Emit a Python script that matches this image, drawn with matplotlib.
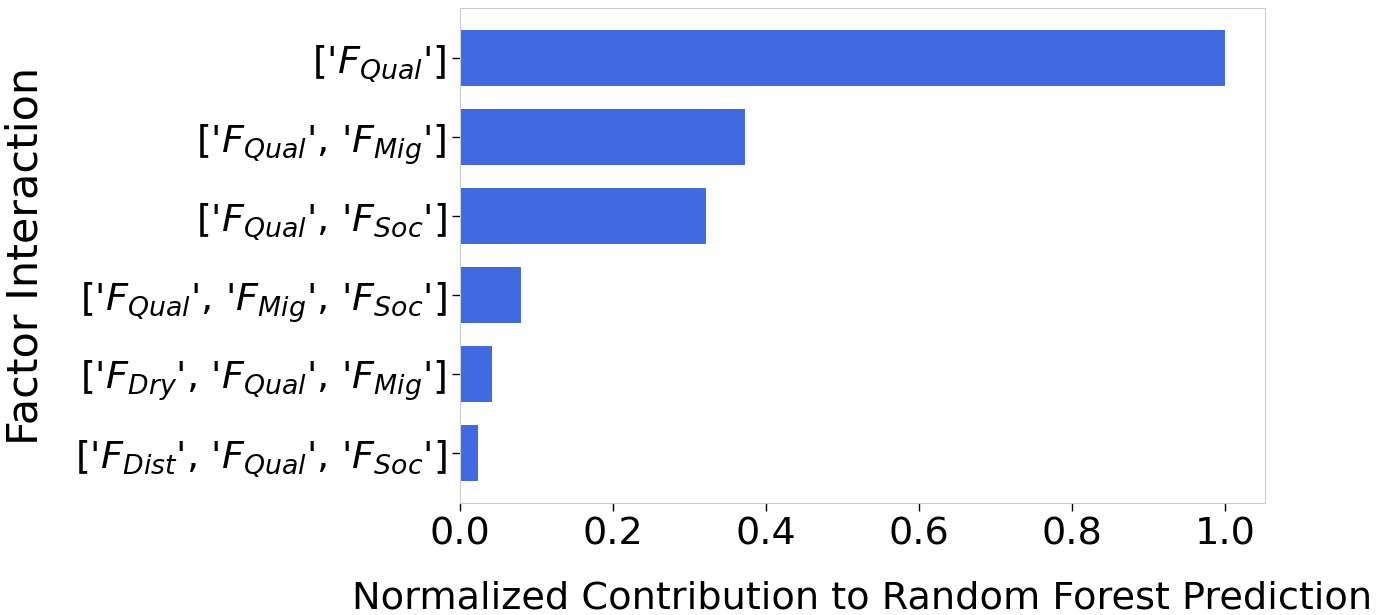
import matplotlib.pyplot as plt

labels = ["['$F_{Qual}$']",
          "['$F_{Qual}$', '$F_{Mig}$']",
          "['$F_{Qual}$', '$F_{Soc}$']",
          "['$F_{Qual}$', '$F_{Mig}$', '$F_{Soc}$']",
          "['$F_{Dry}$', '$F_{Qual}$', '$F_{Mig}$']",
          "['$F_{Dist}$', '$F_{Qual}$', '$F_{Soc}$']"]
values = [1.0, 0.372, 0.322, 0.080, 0.042, 0.024]
xticks = [0.0, 0.2, 0.4, 0.6, 0.8, 1.0]

fig = plt.figure(figsize=(13.88, 6.15), dpi=100)
ax = fig.add_axes([0.3314, 0.182, 0.58, 0.805])

ax.barh(range(len(values)), values, height=0.7, color="royalblue")
ax.set_yticks(range(len(values)))
ax.set_yticklabels(labels, fontsize=27.5)
ax.invert_yaxis()
ax.set_xlim(0, 1.052)
ax.set_xticks(xticks)
ax.set_xticklabels([f"{t:.1f}" for t in xticks], fontsize=27.5)

ax.set_xlabel("Normalized Contribution to Random Forest Prediction", fontsize=27.5, labelpad=20)
ax.set_ylabel("Factor Interaction", fontsize=31)
ax.yaxis.set_label_coords(-0.513, 0.5)

for s in ax.spines.values():
    s.set_color("#cccccc")
ax.tick_params(length=6, width=1, color="black")

fig.savefig("out.png", dpi=100)
